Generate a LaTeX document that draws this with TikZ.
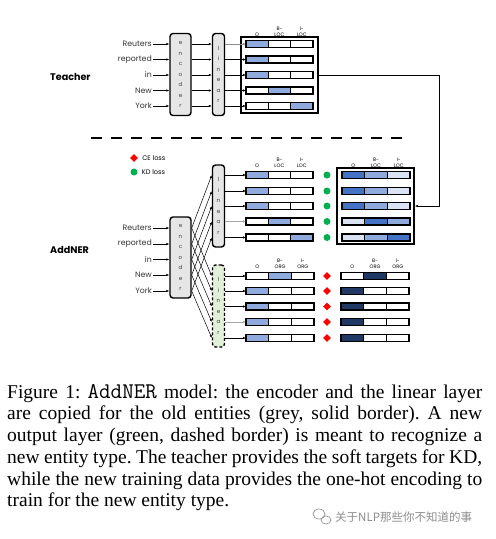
\documentclass[tikz,border=0pt]{standalone}
\usepackage{fontspec}
\setmainfont{Liberation Serif}
\setsansfont{Poppins}
\newfontfamily\cjkfont{Noto Sans CJK SC}
\usepackage{xcolor}
\definecolor{lightblue}{HTML}{8FAADC}
\definecolor{midblue}{HTML}{4472C4}
\definecolor{paleblue}{HTML}{DAE3F3}
\definecolor{navyblue}{HTML}{203864}
\definecolor{encgrey}{HTML}{E7E6E6}
\definecolor{newgreen}{HTML}{E2F0D9}
\definecolor{kdgreen}{HTML}{00B050}
\usepackage{tikz}
\usetikzlibrary{arrows.meta,positioning,calc,shapes.geometric}
\tikzset{
  nerword/.style={font=\sffamily\fontsize{7.8}{9}\selectfont,text=black!80,anchor=east,inner sep=1pt},
  nerlabel/.style={font=\sffamily\bfseries\fontsize{9.6}{11}\selectfont,anchor=west,inner sep=0pt},
  nerlayer/.style={draw=black,line width=1.4pt,rounded corners=3pt,fill=encgrey,align=center,inner sep=0pt,font=\sffamily\fontsize{5.6}{10.5}\selectfont,text=black!75},
  nercell/.style={draw=black,line width=0.7pt,minimum height=7pt,inner sep=0pt,outer sep=0pt},
  nerrowline/.style={draw=black,line width=1.5pt},
  nergrid/.style={draw=black,line width=1.5pt,minimum width=77pt,minimum height=76pt,inner sep=0pt},
  nerhead/.style={font=\sffamily\fontsize{5}{6.5}\selectfont,align=center,inner sep=0.5pt},
  nerarrow/.style={-{Latex[length=3pt,width=2.4pt]},line width=0.5pt},
  kddot/.style={circle,fill=kdgreen,minimum size=7pt,inner sep=0pt},
  cemark/.style={diamond,fill=red,minimum size=8pt,inner sep=0pt},
  legendtext/.style={font=\sffamily\fontsize{6.6}{7.5}\selectfont,anchor=west,inner sep=0pt},
  nercaption/.style={anchor=north west,inner sep=0pt,text width=475pt,align=justify,font=\fontsize{19.5}{21.7}\selectfont\frenchspacing}
}
% one row of three tag cells: name, west x, y, cell width, three fills
\newcommand{\nertagrow}[7]{%
  \node[nercell,minimum width=#4,fill=#5,anchor=west] (#1-a) at (#2,#3) {};
  \node[nercell,minimum width=#4,fill=#6,right=0pt of #1-a] (#1-b) {};
  \node[nercell,minimum width=#4,fill=#7,right=0pt of #1-b] (#1-c) {};
  \draw[nerrowline] (#1-a.north west) rectangle (#1-c.south east);
}
\newcommand{\nerheads}[2]{% row name, entity type
  \node[nerhead,above=3pt of #1-a] {O};
  \node[nerhead,above=3pt of #1-b] {B-\\#2};
  \node[nerhead,above=3pt of #1-c] {I-\\#2};
}

\begin{document}
\begin{tikzpicture}[x=1pt,y=-1pt]
\useasboundingbox (0,0) rectangle (496,539);

% teacher
\node[nerlabel] (teacher) at (50,77) {Teacher};
\foreach \i/\w/\y in {1/Reuters/44,2/reported/59.5,3/in/75,4/New/90.5,5/York/106}
  \node[nerword] (tw\i) at (153,\y) {\w};
\node[nerlayer,minimum width=21pt,minimum height=82pt] (tenc) at (180.5,74.5) {e\\n\\c\\o\\d\\e\\r};
\node[nerlayer,minimum width=12pt,minimum height=82pt] (tlin) at (218.5,74.5) {l\\i\\n\\e\\a\\r};
\node[nergrid] (tgrid) at (279.5,75) {};
\foreach \i/\y/\fa/\fb/\fc in {1/44/lightblue/white/white,2/59.5/lightblue/white/white,
    3/75/lightblue/white/white,4/90.5/white/lightblue/white,5/106/white/white/lightblue}
  {\nertagrow{t\i}{246}{\y}{22.3pt}{\fa}{\fb}{\fc}}
\nerheads{t1}{LOC}
\foreach \i/\c in {1/black!45,2/black,3/black,4/black,5/black} {
  \draw[nerarrow] (tw\i.east) -- (tenc.west |- tw\i);
  \draw[nerarrow] (tenc.east |- tw\i) -- (tlin.west |- tw\i);
  \draw[nerarrow,draw=\c] (tlin.east |- t\i-a) -- (t\i-a.west);
}

\draw[line width=1.8pt,dash pattern=on 11pt off 9pt] (91,138) -- (407,138);

% legend
\node[cemark] (celegend) at (134,158) {};
\node[legendtext,right=4pt of celegend] {CE loss};
\node[kddot] (kdlegend) at (134,172) {};
\node[legendtext,right=4pt of kdlegend] {KD loss};

% student
\node[nerlabel] (addner) at (50,250) {AddNER};
\foreach \i/\w/\y in {1/Reuters/228,2/reported/244,3/in/259.5,4/New/275,5/York/291}
  \node[nerword] (sw\i) at (153,\y) {\w};
\node[nerlayer,minimum width=21pt,minimum height=81pt] (senc) at (180.5,257.5) {e\\n\\c\\o\\d\\e\\r};
\node[nerlayer,minimum width=12pt,minimum height=82pt] (slin) at (218.5,206) {l\\i\\n\\e\\a\\r};
\node[nerlayer,minimum width=12pt,minimum height=82pt,fill=newgreen,dash pattern=on 3pt off 2pt] (nlin) at (218.5,306) {l\\i\\n\\e\\a\\r};
\node[nergrid] (kgrid) at (375.5,206) {};
\foreach \i/\y/\fa/\fb/\fc/\ka/\kb/\kc in {1/175/lightblue/white/white/midblue/lightblue/paleblue,
    2/191/lightblue/white/white/midblue/lightblue/paleblue,
    3/206/lightblue/white/white/midblue/lightblue/paleblue,
    4/221.5/white/lightblue/white/paleblue/midblue/lightblue,
    5/237.5/white/white/lightblue/paleblue/lightblue/midblue}
  {\nertagrow{s\i}{246}{\y}{22.3pt}{\fa}{\fb}{\fc}
   \nertagrow{k\i}{342}{\y}{22.7pt}{\ka}{\kb}{\kc}
   \node[kddot] (kd\i) at (327,\y) {};}
\nerheads{s1}{LOC}
\nerheads{k1}{LOC}
\foreach \i/\y/\fa/\fb/\ha/\hb in {1/276/white/lightblue/white/navyblue,
    2/291/lightblue/white/navyblue/white,3/306.5/lightblue/white/navyblue/white,
    4/322/lightblue/white/navyblue/white,5/338/lightblue/white/navyblue/white}
  {\nertagrow{n\i}{246}{\y}{22.7pt}{\fa}{\fb}{white}
   \nertagrow{h\i}{341}{\y}{22.7pt}{\ha}{\hb}{white}
   \node[cemark] (ce\i) at (327,\y) {};}
\nerheads{n1}{ORG}
\nerheads{h1}{ORG}
\foreach \i/\c in {1/black,2/black,3/black,4/black!35,5/black} {
  \draw[nerarrow] (sw\i.east) -- (senc.west |- sw\i);
  \draw[nerarrow] (senc.east |- sw\i) -- (slin.west |- s\i-a);
  \draw[nerarrow] (senc.east |- sw\i) -- (nlin.west |- n\i-a);
  \draw[nerarrow,draw=\c] (slin.east |- s\i-a) -- (s\i-a.west);
  \draw[nerarrow,draw=\c] (nlin.east |- n\i-a) -- (n\i-a.west);
}

% soft targets from the teacher
\coordinate (tbend) at (439,75);
\draw[nerarrow,line width=1pt] (tgrid.east) -- (tbend) |- (kgrid.east);

% caption
\node[nercaption] (caption) at (7,384) {Figure 1: {\ttfamily\fontsize{22.4}{21.7}\selectfont AddNER} model: the encoder and the linear layer\linebreak
are copied for the old entities (grey, solid border). A new\linebreak
output layer (green, dashed border) is meant to recognize a\linebreak
new entity type. The teacher provides the soft targets for KD,\linebreak
while the new training data provides the one-hot encoding to\linebreak
train for the new entity type.};

% watermark
\draw[black!40,line width=0.7pt] (319,514) ellipse (6 and 5) (326,520) ellipse (5 and 4);
\node[font=\cjkfont\fontsize{11.5}{13}\selectfont,text=black!45,anchor=west,inner sep=0pt] (mark) at (335,517) {关于NLP那些你不知道的事};
\end{tikzpicture}
\end{document}
